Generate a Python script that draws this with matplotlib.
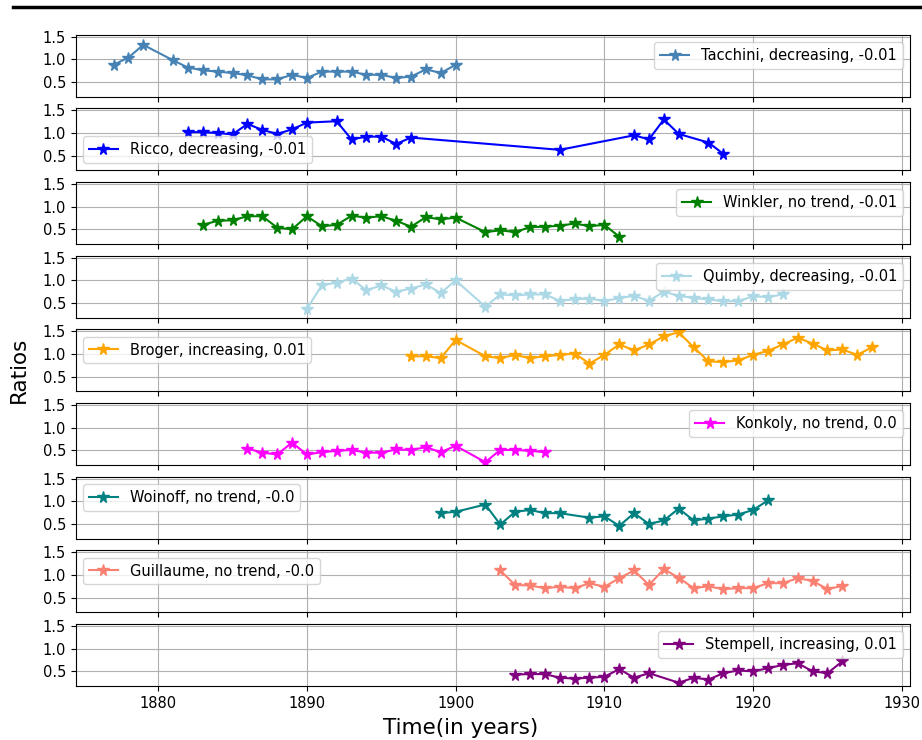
import matplotlib
matplotlib.use('Agg')
import matplotlib.pyplot as plt
from matplotlib.lines import Line2D

names = ['Tacchini', 'Ricco', 'Winkler', 'Quimby', 'Broger',
         'Konkoly', 'Woinoff', 'Guillaume', 'Stempell']
trends = ['decreasing, -0.01', 'decreasing, -0.01', 'no trend, -0.01',
          'decreasing, -0.01', 'increasing, 0.01', 'no trend, 0.0',
          'no trend, -0.0', 'no trend, -0.0', 'increasing, 0.01']
colors = ['steelblue', 'blue', 'green', 'lightblue', 'orange',
          'magenta', 'teal', 'salmon', 'purple']

tacchini_years = [1877, 1878, 1879, 1881, 1882, 1883, 1884, 1885, 1886, 1887, 1888, 1889,
                  1890, 1891, 1892, 1893, 1894, 1895, 1896, 1897, 1898, 1899, 1900]
tacchini_vals = [0.88, 1.04, 1.32, 0.98, 0.82, 0.76, 0.73, 0.70, 0.65, 0.56, 0.56, 0.66,
                 0.59, 0.73, 0.73, 0.73, 0.66, 0.66, 0.59, 0.62, 0.78, 0.70, 0.88]

ricco_years = [1882, 1883, 1884, 1885, 1886, 1887, 1888, 1889, 1890, 1892, 1893, 1894,
               1895, 1896, 1897, 1907, 1912, 1913, 1914, 1915, 1917, 1918]
ricco_vals = [1.02, 1.02, 1.00, 0.97, 1.20, 1.07, 0.98, 1.08, 1.23, 1.26, 0.86, 0.92,
              0.92, 0.76, 0.90, 0.63, 0.95, 0.86, 1.30, 0.98, 0.79, 0.54]

winkler_years = [1883, 1884, 1885, 1886, 1887, 1888, 1889, 1890, 1891, 1892, 1893, 1894,
                 1895, 1896, 1897, 1898, 1899, 1900, 1902, 1903, 1904, 1905, 1906, 1907,
                 1908, 1909, 1910, 1911]
winkler_vals = [0.60, 0.69, 0.70, 0.79, 0.79, 0.54, 0.50, 0.79, 0.57, 0.60, 0.80, 0.76,
                0.79, 0.69, 0.56, 0.77, 0.72, 0.76, 0.44, 0.48, 0.44, 0.55, 0.56, 0.58,
                0.63, 0.57, 0.60, 0.34]

quimby_years = [1890, 1891, 1892, 1893, 1894, 1895, 1896, 1897, 1898, 1899, 1900, 1902,
                1903, 1904, 1905, 1906, 1907, 1908, 1909, 1910, 1911, 1912, 1913, 1914,
                1915, 1916, 1917, 1918, 1919, 1920, 1921, 1922]
quimby_vals = [0.37, 0.89, 0.95, 1.04, 0.78, 0.89, 0.75, 0.82, 0.91, 0.72, 1.00, 0.42,
               0.69, 0.67, 0.69, 0.69, 0.55, 0.58, 0.60, 0.54, 0.61, 0.66, 0.55, 0.75,
               0.66, 0.61, 0.58, 0.54, 0.54, 0.65, 0.63, 0.69]

broger_years = [1897, 1898, 1899, 1900, 1902, 1903, 1904, 1905, 1906, 1907, 1908, 1909,
                1910, 1911, 1912, 1913, 1914, 1915, 1916, 1917, 1918, 1919, 1920, 1921,
                1922, 1923, 1924, 1925, 1926, 1927, 1928]
broger_vals = [0.95, 0.95, 0.91, 1.31, 0.95, 0.91, 0.98, 0.91, 0.95, 0.98, 1.01, 0.79,
               0.98, 1.21, 1.08, 1.21, 1.39, 1.48, 1.15, 0.84, 0.82, 0.86, 0.98, 1.07,
               1.21, 1.36, 1.23, 1.08, 1.10, 0.98, 1.15]

konkoly_years = [1886, 1887, 1888, 1889, 1890, 1891, 1892, 1893, 1894, 1895, 1896, 1897,
                 1898, 1899, 1900, 1902, 1903, 1904, 1905, 1906]
konkoly_vals = [0.54, 0.45, 0.41, 0.67, 0.41, 0.46, 0.49, 0.51, 0.45, 0.45, 0.52, 0.51,
                0.57, 0.46, 0.60, 0.24, 0.51, 0.51, 0.49, 0.46]

woinoff_years = [1899, 1900, 1902, 1903, 1904, 1905, 1906, 1907, 1909, 1910, 1911, 1912,
                 1913, 1914, 1915, 1916, 1917, 1918, 1919, 1920, 1921]
woinoff_vals = [0.74, 0.77, 0.93, 0.49, 0.77, 0.81, 0.74, 0.74, 0.64, 0.67, 0.46, 0.74,
                0.50, 0.58, 0.84, 0.58, 0.62, 0.67, 0.71, 0.81, 1.02]

guillaume_years = [1903, 1904, 1905, 1906, 1907, 1908, 1909, 1910, 1911, 1912, 1913, 1914,
                   1915, 1916, 1917, 1918, 1919, 1920, 1921, 1922, 1923, 1924, 1925, 1926]
guillaume_vals = [1.10, 0.78, 0.77, 0.71, 0.74, 0.71, 0.82, 0.74, 0.93, 1.10, 0.78, 1.13,
                  0.94, 0.71, 0.75, 0.69, 0.71, 0.71, 0.82, 0.82, 0.93, 0.87, 0.69, 0.76]

stempell_years = [1904, 1905, 1906, 1907, 1908, 1909, 1910, 1911, 1912, 1913, 1915, 1916,
                  1917, 1918, 1919, 1920, 1921, 1922, 1923, 1924, 1925, 1926]
stempell_vals = [0.43, 0.44, 0.44, 0.36, 0.34, 0.36, 0.38, 0.55, 0.36, 0.46, 0.25, 0.36,
                 0.32, 0.46, 0.52, 0.50, 0.57, 0.64, 0.68, 0.50, 0.46, 0.72]

all_years = [tacchini_years, ricco_years, winkler_years, quimby_years, broger_years,
             konkoly_years, woinoff_years, guillaume_years, stempell_years]
all_vals = [tacchini_vals, ricco_vals, winkler_vals, quimby_vals, broger_vals,
            konkoly_vals, woinoff_vals, guillaume_vals, stempell_vals]
legend_locs = ['upper right', 'lower left', 'upper right', 'upper right', 'upper left',
               'upper right', 'upper left', 'upper left', 'upper right']

fig, axes = plt.subplots(9, 1, sharex=True, sharey=True, figsize=(9.22, 7.4), dpi=100)
fig.subplots_adjust(left=0.082, right=0.987, top=0.953, bottom=0.073, hspace=0.19)

for i, ax in enumerate(axes):
    ax.plot(all_years[i], all_vals[i], marker='*', markersize=8.5, color=colors[i],
            label=f'{names[i]}, {trends[i]}')
    ax.grid(True)
    ax.legend(loc=legend_locs[i], fontsize=10.5)
    ax.set_yticks([0.5, 1.0, 1.5])
    ax.tick_params(labelsize=10.5)

axes[-1].set_xticks([1880, 1890, 1900, 1910, 1920, 1930])
fig.text(0.5, 0.003, 'Time(in years)', ha='center', va='bottom', fontsize=15.5)
fig.text(0.01, 0.5, 'Ratios', ha='left', va='center', rotation=90, fontsize=15.5)
fig.add_artist(Line2D([0.014, 1.0], [0.991, 0.991], color='black', linewidth=2.5,
                      transform=fig.transFigure))

plt.savefig('out.png')
